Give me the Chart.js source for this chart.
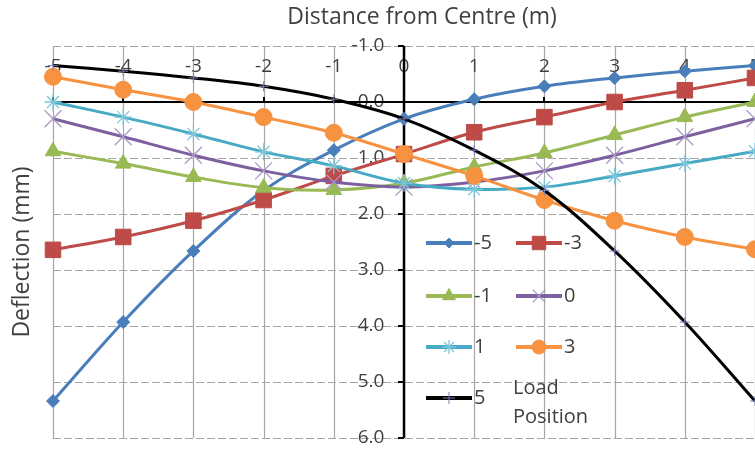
<!DOCTYPE html>
<html>
<head>
<meta charset="utf-8">
<script src="https://cdn.jsdelivr.net/npm/chart.js@4.4.1/dist/chart.umd.min.js"></script>
<style>
  html,body{margin:0;padding:0;background:#fff;}
  #wrap{width:755px;height:450px;position:relative;}
</style>
</head>
<body>
<div id="wrap"><canvas id="c" width="755" height="450"></canvas></div>
<script>
// ---- data ----
const distances = [-5, -4, -3, -2, -1, 0, 1, 2, 3, 4, 5];
const xTicks = [-5, -4, -3, -2, -1, 0, 1, 2, 3, 4, 5];
const yTicks = [-1, 0, 1, 2, 3, 4, 5, 6];
const seriesNames = ['-5', '-3', '-1', '0', '1', '3', '5'];
const loadM5 = [5.34, 3.93, 2.66, 1.58, 0.86, 0.30, -0.05, -0.28, -0.43, -0.55, -0.65];
const loadM3 = [2.64, 2.41, 2.12, 1.75, 1.32, 0.93, 0.54, 0.27, 0.00, -0.21, -0.43];
const loadM1 = [0.88, 1.10, 1.34, 1.53, 1.57, 1.45, 1.16, 0.91, 0.59, 0.27, 0.00];
const load0  = [0.30, 0.62, 0.95, 1.23, 1.43, 1.52, 1.43, 1.23, 0.95, 0.62, 0.30];
const loadP1 = [0.00, 0.27, 0.57, 0.89, 1.14, 1.45, 1.56, 1.52, 1.32, 1.10, 0.88];
const loadP3 = [-0.45, -0.22, 0.00, 0.27, 0.55, 0.93, 1.32, 1.75, 2.12, 2.41, 2.63];
const loadP5 = [-0.65, -0.55, -0.43, -0.28, -0.05, 0.30, 0.86, 1.58, 2.66, 3.93, 5.34];
const xTitle = 'Distance from Centre (m)';
const yTitle = 'Deflection (mm)';
const legendNote = ['Load', 'Position'];

const FONT = '"Open Sans", "Noto Sans", sans-serif';
const TXT = '#404040';

const styles = [
  {line:'#4A7EBB', fill:'#4A7EBB', pt:'rectRot', r:6.5, lr:5, bw:1},
  {line:'#BE4B48', fill:'#BE4B48', pt:'rect', r:11, lr:9.5, bw:1},
  {line:'#98B954', fill:'#98B954', pt:'triangle', r:9, lr:7.5, bw:1},
  {line:'#7D60A0', fill:'#7D60A0', pt:'crossRot', r:12, lr:9, bw:1.3, pc:'#A898C8'},
  {line:'#46AAC5', fill:'#46AAC5', pt:'star', r:8.5, lr:7, bw:1.3, pc:'#7CC6DA'},
  {line:'#F69240', fill:'#F69240', pt:'circle', r:8.5, lr:7, bw:1},
  {line:'#000000', fill:'#000000', pt:'cross', r:5, lr:6, bw:1, pc:'#7B7BB8'}
];
const allValues = [loadM5, loadM3, loadM1, load0, loadP1, loadP3, loadP5];

const datasets = allValues.map((vals, i) => {
  const s = styles[i];
  return {
    label: seriesNames[i],
    data: distances.map((d, k) => ({x: d, y: vals[k]})),
    borderColor: s.line,
    backgroundColor: s.fill,
    borderWidth: 3,
    pointStyle: s.pt,
    pointRadius: s.r,
    legendRadius: s.lr,
    pointBorderColor: s.pc || s.line,
    pointBackgroundColor: s.pc || s.fill,
    pointBorderWidth: s.bw,
    tension: 0.35,
    clip: false,
    order: 7 - i
  };
});

const customAxes = {
  id: 'customAxes',
  beforeDatasetsDraw(chart) {
    const {ctx, chartArea: a, scales: {x, y}} = chart;
    ctx.save();
    // vertical grid lines
    ctx.strokeStyle = '#A6A6A6';
    ctx.lineWidth = 1.2;
    ctx.setLineDash([]);
    xTicks.forEach(v => {
      const px = Math.round(x.getPixelForValue(v)) + 0.5;
      ctx.beginPath(); ctx.moveTo(px, a.top); ctx.lineTo(px, a.bottom); ctx.stroke();
    });
    // horizontal grid lines (dashed)
    ctx.setLineDash([8, 3]);
    yTicks.forEach(v => {
      const py = Math.round(y.getPixelForValue(v)) + 0.5;
      ctx.beginPath(); ctx.moveTo(a.left, py); ctx.lineTo(a.right, py); ctx.stroke();
    });
    ctx.setLineDash([]);
    // tick labels
    ctx.fillStyle = TXT;
    ctx.font = '19px ' + FONT;
    ctx.textAlign = 'center';
    ctx.textBaseline = 'middle';
    const y0 = y.getPixelForValue(0);
    const x0 = x.getPixelForValue(0);
    xTicks.forEach(v => {
      ctx.fillText(String(v), x.getPixelForValue(v), y.getPixelForValue(-0.64));
    });
    ctx.textAlign = 'right';
    yTicks.forEach(v => {
      ctx.fillText(v.toFixed(1), x.getPixelForValue(-0.28), y.getPixelForValue(v));
    });
    // x axis line at y=0
    ctx.strokeStyle = '#000';
    ctx.lineWidth = 2;
    ctx.beginPath(); ctx.moveTo(a.left, Math.round(y0)); ctx.lineTo(a.right, Math.round(y0)); ctx.stroke();
    xTicks.forEach(v => {
      const px = Math.round(x.getPixelForValue(v));
      ctx.beginPath(); ctx.moveTo(px, Math.round(y0)); ctx.lineTo(px, Math.round(y0) - 5); ctx.stroke();
    });
    // y axis line at x=0
    ctx.lineWidth = 2.5;
    ctx.beginPath(); ctx.moveTo(Math.round(x0), a.top); ctx.lineTo(Math.round(x0), a.bottom); ctx.stroke();
    ctx.lineWidth = 2;
    yTicks.forEach(v => {
      const py = Math.round(y.getPixelForValue(v));
      ctx.beginPath(); ctx.moveTo(Math.round(x0), py); ctx.lineTo(Math.round(x0) - 6, py); ctx.stroke();
    });
    // titles
    ctx.fillStyle = TXT;
    ctx.font = '23px ' + FONT;
    ctx.textAlign = 'center';
    ctx.textBaseline = 'middle';
    ctx.fillText(xTitle, 422, 17);
    ctx.save();
    ctx.translate(22, 252);
    ctx.rotate(-Math.PI / 2);
    ctx.fillText(yTitle, 0, 0);
    ctx.restore();
    ctx.restore();
  },
  afterDatasetsDraw(chart) {
    const {ctx} = chart;
    const cols = [{cx: 449, lx: 474}, {cx: 539, lx: 564}];
    const rows = [243, 296, 347, 398];
    ctx.save();
    chart.data.datasets.forEach((ds, i) => {
      const col = cols[i % 2];
      const ry = rows[Math.floor(i / 2)];
      ctx.strokeStyle = ds.borderColor;
      ctx.lineWidth = 4;
      ctx.beginPath(); ctx.moveTo(col.cx - 23, ry); ctx.lineTo(col.cx + 23, ry); ctx.stroke();
      ctx.fillStyle = ds.pointBackgroundColor;
      ctx.strokeStyle = ds.pointBorderColor;
      ctx.lineWidth = ds.pointBorderWidth;
      Chart.helpers.drawPoint(ctx, {pointStyle: ds.pointStyle, radius: ds.legendRadius, rotation: 0, borderWidth: ds.pointBorderWidth}, col.cx, ry);
      ctx.fillStyle = TXT;
      ctx.font = '20px ' + FONT;
      ctx.textAlign = 'left';
      ctx.textBaseline = 'middle';
      ctx.fillText(ds.label, col.lx, ry);
    });
    ctx.font = '20px ' + FONT;
    ctx.fillText(legendNote[0], 513, 388);
    ctx.fillText(legendNote[1], 513, 417);
    ctx.restore();
  }
};

new Chart(document.getElementById('c'), {
  type: 'line',
  data: {datasets},
  options: {
    responsive: false,
    animation: false,
    layout: {autoPadding: false, padding: {left: 53, right: 0, top: 46, bottom: 12}},
    plugins: {legend: {display: false}, tooltip: {enabled: false}},
    scales: {
      x: {type: 'linear', min: -5, max: 5, display: false},
      y: {type: 'linear', min: -1, max: 6, reverse: true, display: false}
    }
  },
  plugins: [customAxes]
});
</script>
</body>
</html>
